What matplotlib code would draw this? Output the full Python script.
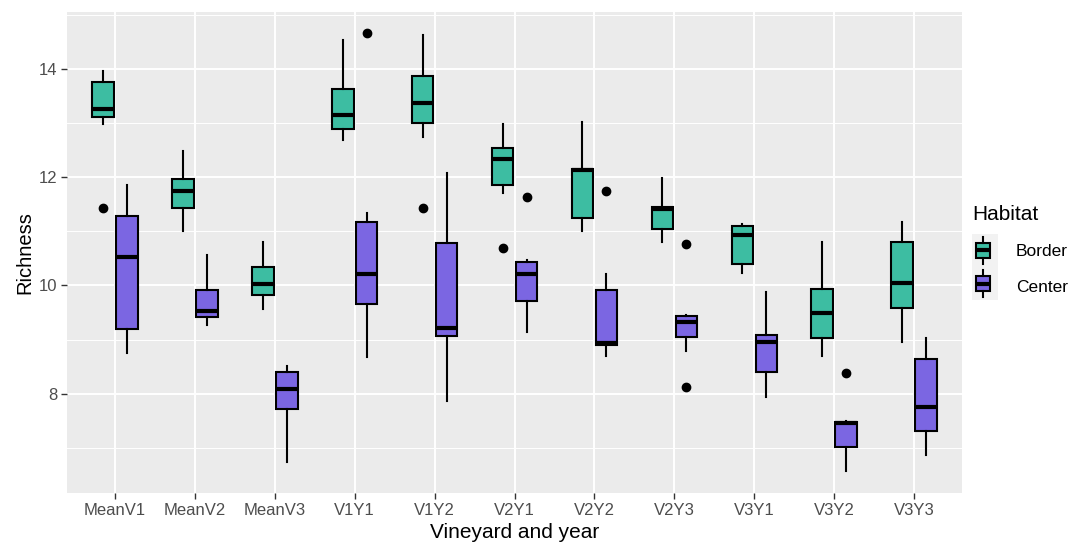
import numpy as np
import matplotlib
matplotlib.use("Agg")
import matplotlib.pyplot as plt

plt.rcParams['font.family'] = ['Liberation Sans', 'DejaVu Sans']

groups = ["MeanV1", "MeanV2", "MeanV3", "V1Y1", "V1Y2", "V2Y1",
          "V2Y2", "V2Y3", "V3Y1", "V3Y2", "V3Y3"]

# Border habitat: whisker low, q1, median, q3, whisker high
border_wlo = [12.99, 11.00, 9.56, 12.69, 12.74, 11.72, 11.00, 10.80, 10.24, 8.69, 8.96]
border_q1 = [13.11, 11.43, 9.83, 12.90, 13.00, 11.86, 11.25, 11.04, 10.40, 9.03, 9.59]
border_med = [13.26, 11.75, 10.03, 13.15, 13.37, 12.34, 12.13, 11.42, 10.93, 9.49, 10.04]
border_q3 = [13.77, 11.97, 10.34, 13.64, 13.87, 12.55, 12.15, 11.45, 11.10, 9.94, 10.80]
border_whi = [13.96, 12.49, 10.80, 14.55, 14.64, 12.99, 13.03, 11.99, 11.14, 10.81, 11.17]
border_out = [[11.43], [], [], [], [11.43], [10.70], [], [], [], [], []]

# Center habitat
center_wlo = [8.75, 9.27, 6.73, 8.68, 7.87, 9.14, 8.69, 8.78, 7.93, 6.57, 6.87]
center_q1 = [9.20, 9.41, 7.71, 9.66, 9.07, 9.72, 8.90, 9.04, 8.40, 7.01, 7.30]
center_med = [10.53, 9.53, 8.08, 10.21, 9.22, 10.21, 8.93, 9.32, 8.96, 7.45, 7.75]
center_q3 = [11.28, 9.91, 8.40, 11.17, 10.78, 10.43, 9.92, 9.43, 9.09, 7.47, 8.64]
center_whi = [11.86, 10.57, 8.51, 11.34, 12.09, 10.48, 10.21, 9.46, 9.88, 7.50, 9.03]
center_out = [[], [], [], [14.67], [], [11.64], [11.75], [10.77, 8.13], [], [8.38], []]

habitats = ["Border", "Center"]
colors = {"Border": "#3DBDA2", "Center": "#7B66E2"}


def make_stats(wlo, q1, med, q3, whi, out):
    return [dict(whislo=a, q1=b, med=c, q3=d, whishi=e, fliers=f)
            for a, b, c, d, e, f in zip(wlo, q1, med, q3, whi, out)]


stats = {
    "Border": make_stats(border_wlo, border_q1, border_med, border_q3, border_whi, border_out),
    "Center": make_stats(center_wlo, center_q1, center_med, center_q3, center_whi, center_out),
}

fig = plt.figure(figsize=(10.75, 5.46), dpi=100)
ax = fig.add_axes([0.0623, 0.097, 0.8327, 0.881])
ax.set_facecolor("#EBEBEB")
for s in ax.spines.values():
    s.set_visible(False)

x = np.arange(len(groups))
offsets = {"Border": -0.15, "Center": 0.15}


def draw(axis, st, pos, col, width):
    axis.bxp(st, positions=pos, widths=width, patch_artist=True, showcaps=False,
             boxprops=dict(facecolor=col, edgecolor="black", linewidth=1.5),
             medianprops=dict(color="black", linewidth=3, solid_capstyle="butt"),
             whiskerprops=dict(color="black", linewidth=1.5),
             flierprops=dict(marker="o", markerfacecolor="black",
                             markeredgecolor="black", markersize=6),
             manage_ticks=False, zorder=3)


for h in habitats:
    draw(ax, stats[h], x + offsets[h], colors[h], 0.27)

ax.set_xlim(-0.6, len(groups) - 0.4)
ax.set_ylim(6.16, 15.06)
ax.set_yticks([8, 10, 12, 14])
ax.set_yticks([7, 9, 11, 13, 15], minor=True)
ax.set_xticks(x)
ax.set_xticklabels(groups)
ax.grid(True, which="major", color="white", linewidth=1.4, zorder=0)
ax.grid(True, which="minor", axis="y", color="white", linewidth=0.7, zorder=0)
ax.set_axisbelow(True)
ax.tick_params(axis="both", which="major", length=4, width=1, color="#333333",
               labelcolor="#4D4D4D", labelsize=12, pad=3)
ax.tick_params(axis="y", which="minor", length=0)
ax.set_xlabel("Vineyard and year", fontsize=15, labelpad=4)
ax.set_ylabel("Richness", fontsize=14.5, labelpad=3)

# legend
fig.text(972 / 1075, 1 - 215 / 546, "Habitat", fontsize=15, va="center", ha="left")
lax = fig.add_axes([972 / 1075, 1 - 300 / 546, 26 / 1075, 66 / 546])
lax.set_facecolor("#F2F2F2")
for s in lax.spines.values():
    s.set_visible(False)
lax.set_xticks([])
lax.set_yticks([])
lax.set_xlim(0, 1)
lax.set_ylim(0, 2)
for i, h in enumerate(habitats):
    base = 1 - i
    key = [dict(whislo=base + 0.08, q1=base + 0.27, med=base + 0.5,
                q3=base + 0.73, whishi=base + 0.92, fliers=[])]
    draw(lax, key, [0.42], colors[h], 0.55)
    fig.text(1016 / 1075, 1 - (252 + 35 * i) / 546, h, fontsize=12.5,
             va="center", ha="left")

fig.savefig("out.png", dpi=100)
